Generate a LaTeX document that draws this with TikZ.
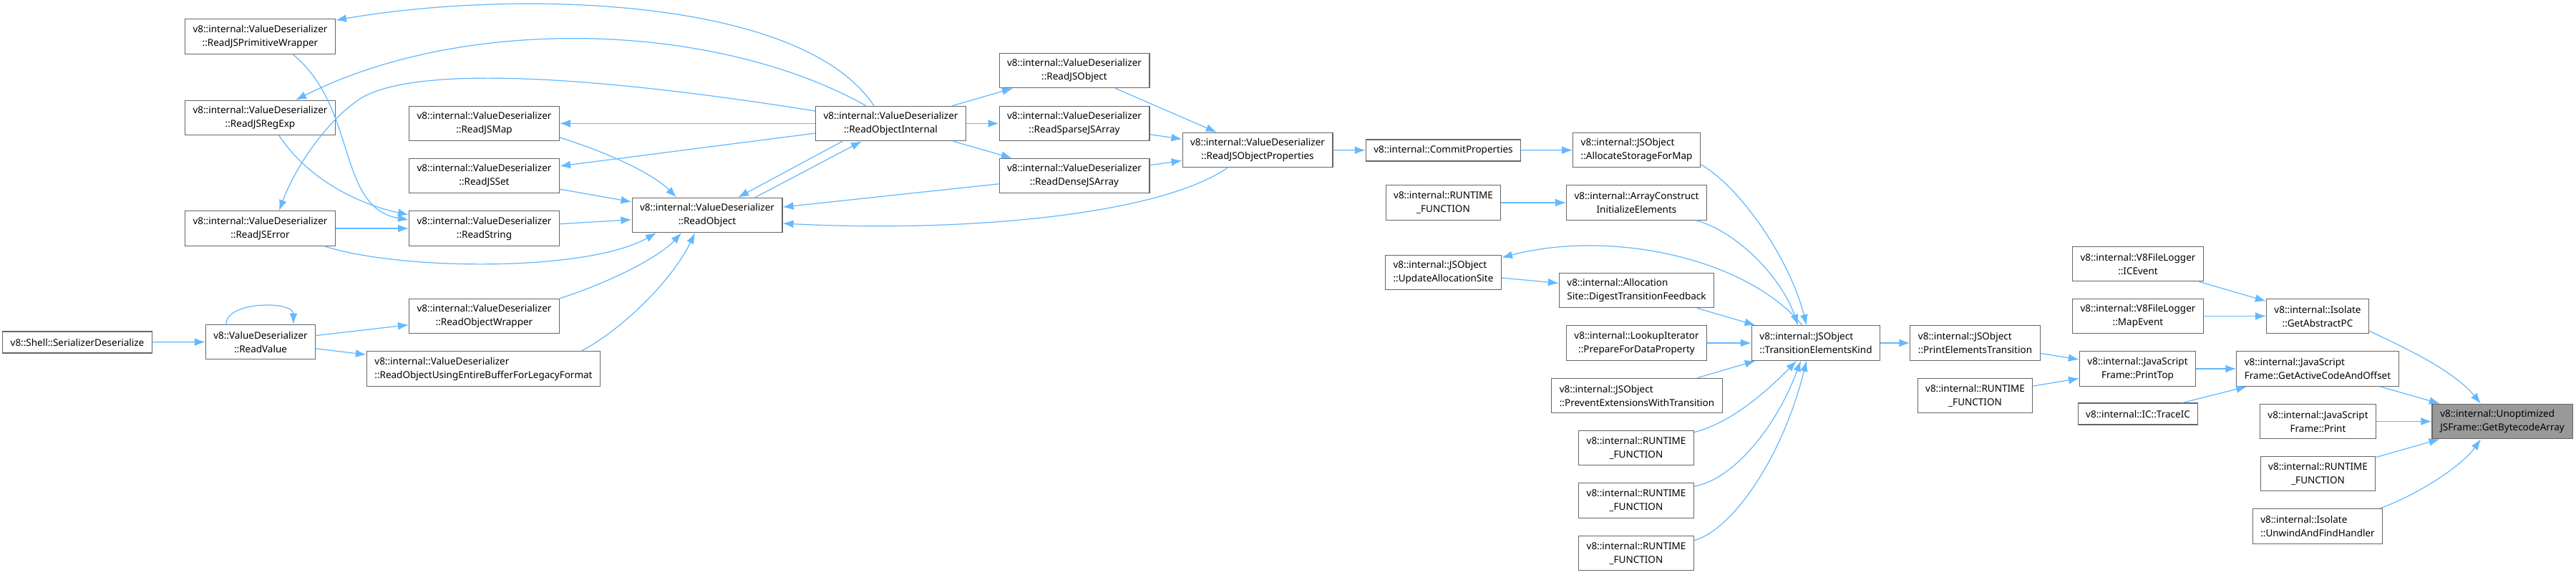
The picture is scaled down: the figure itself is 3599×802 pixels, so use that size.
\documentclass[tikz,border=0pt]{standalone}
\usepackage{fontspec}
\usepackage{tikz}
\usetikzlibrary{arrows.meta,calc}
\newfontfamily\graphfont{Noto Sans}
\definecolor{EdgeBlue}{RGB}{99,184,255}
\definecolor{NodeBorder}{RGB}{102,102,102}
\definecolor{RootFill}{RGB}{153,153,153}

\begin{document}
\begin{tikzpicture}[x=0.01cm, y=-0.01cm,
    fn/.style={draw=NodeBorder, fill=white, line width=0.3pt, inner xsep=0.11cm, inner ysep=0pt,
      minimum height=0.485cm, align=center, font={\graphfont\fontsize{3.84pt}{5.41pt}\selectfont}},
    fnl/.style={fn, align=left},
    fnone/.style={fn, minimum height=0.30cm},
    calls/.style={draw=EdgeBlue, line width=0.35pt, -{Latex[length=0.15cm,width=0.11cm]}}]
        \useasboundingbox (0,0) rectangle (3599,802);
        % ValueDeserializer side
        \node[fnone, minimum width=2.06cm] (sh) at (108,478) {v8::Shell::SerializerDeserialize};
        \node[fn, minimum width=1.52cm] (rv) at (364,477.5) {v8::ValueDeserializer\\::ReadValue};
        \node[fn, minimum width=2.09cm] (pw) at (363.5,51) {v8::internal::ValueDeserializer\\::ReadJSPrimitiveWrapper};
        \node[fn, minimum width=2.09cm] (re) at (363.5,164.5) {v8::internal::ValueDeserializer\\::ReadJSRegExp};
        \node[fn, minimum width=2.09cm] (er) at (363.5,319) {v8::internal::ValueDeserializer\\::ReadJSError};
        \node[fn, minimum width=2.09cm] (map) at (676.5,172.5) {v8::internal::ValueDeserializer\\::ReadJSMap};
        \node[fn, minimum width=2.09cm] (set) at (676.5,245.5) {v8::internal::ValueDeserializer\\::ReadJSSet};
        \node[fn, minimum width=2.09cm] (str) at (676.5,319) {v8::internal::ValueDeserializer\\::ReadString};
        \node[fn, minimum width=2.09cm] (row) at (676.5,441.5) {v8::internal::ValueDeserializer\\::ReadObjectWrapper};
        \node[fnl, minimum width=3.21cm] (leg) at (675.5,515) {v8::internal::ValueDeserializer\\::ReadObjectUsingEntireBufferForLegacyFormat};
        \node[fn, minimum width=2.08cm] (ro) at (988,300.5) {v8::internal::ValueDeserializer\\::ReadObject};
        \node[fn, minimum width=2.09cm] (roi) at (1244.5,172.5) {v8::internal::ValueDeserializer\\::ReadObjectInternal};
        \node[fn, minimum width=2.08cm] (jso) at (1501,98.5) {v8::internal::ValueDeserializer\\::ReadJSObject};
        \node[fn, minimum width=2.08cm] (spa) at (1501,172.5) {v8::internal::ValueDeserializer\\::ReadSparseJSArray};
        \node[fn, minimum width=2.08cm] (den) at (1501,245.5) {v8::internal::ValueDeserializer\\::ReadDenseJSArray};
        \node[fn, minimum width=2.08cm] (jop) at (1757,209.5) {v8::internal::ValueDeserializer\\::ReadJSObjectProperties};
        % JSObject side
        \node[fnone, minimum width=2.13cm] (cp) at (2016.5,210) {v8::internal::CommitProperties};
        \node[fnl, minimum width=1.73cm] (asm) at (2286.5,209.5) {v8::internal::JSObject\\::AllocateStorageForMap};
        \node[fn, minimum width=1.59cm] (rf1) at (2016.5,283) {v8::internal::RUNTIME\\\_FUNCTION};
        \node[fn, minimum width=1.95cm] (aci) at (2286.5,283) {v8::internal::ArrayConstruct\\InitializeElements};
        \node[fnl, minimum width=1.59cm] (uas) at (2016.5,380.5) {v8::internal::JSObject\\::UpdateAllocationSite};
        \node[fnl, minimum width=2.11cm] (dtf) at (2286.5,405.5) {v8::internal::Allocation\\Site::DigestTransitionFeedback};
        \node[fn, minimum width=1.95cm] (lpd) at (2286.5,479) {v8::internal::LookupIterator\\::PrepareForDataProperty};
        \node[fnl, minimum width=2.32cm] (pew) at (2287,552.5) {v8::internal::JSObject\\::PreventExtensionsWithTransition};
        \node[fn, minimum width=1.60cm] (rf2) at (2286,625.5) {v8::internal::RUNTIME\\\_FUNCTION};
        \node[fn, minimum width=1.60cm] (rf3) at (2286,699) {v8::internal::RUNTIME\\\_FUNCTION};
        \node[fn, minimum width=1.60cm] (rf4) at (2286,772.5) {v8::internal::RUNTIME\\\_FUNCTION};
        \node[fnl, minimum width=1.74cm] (tek) at (2537,479) {v8::internal::JSObject\\::TransitionElementsKind};
        \node[fnl, minimum width=1.77cm] (pet) at (2759.5,479) {v8::internal::JSObject\\::PrintElementsTransition};
        \node[fn, minimum width=1.59cm] (rf5) at (2759.5,552.5) {v8::internal::RUNTIME\\\_FUNCTION};
        % frames and root
        \node[fn, minimum width=1.82cm] (ice) at (2987,368.5) {v8::internal::V8FileLogger\\::ICEvent};
        \node[fn, minimum width=1.82cm] (mae) at (2987,441.5) {v8::internal::V8FileLogger\\::MapEvent};
        \node[fn, minimum width=1.42cm] (gapc) at (3238,441.5) {v8::internal::Isolate\\::GetAbstractPC};
        \node[fn, minimum width=1.61cm] (pt) at (2986.5,515) {v8::internal::JavaScript\\Frame::PrintTop};
        \node[fnl, minimum width=2.24cm] (gac) at (3238,515) {v8::internal::JavaScript\\Frame::GetActiveCodeAndOffset};
        \node[fnone, minimum width=1.66cm] (tic) at (2987,578) {v8::internal::IC::TraceIC};
        \node[fn, minimum width=1.61cm] (pr) at (3238.5,588.5) {v8::internal::JavaScript\\Frame::Print};
        \node[fnl, minimum width=1.96cm, fill=RootFill] (gba) at (3496,588.5) {v8::internal::Unoptimized\\JSFrame::GetBytecodeArray};
        \node[fn, minimum width=1.59cm] (rf6) at (3238.5,661.5) {v8::internal::RUNTIME\\\_FUNCTION};
        \node[fnl, minimum width=1.78cm] (ufh) at (3238,735) {v8::internal::Isolate\\::UnwindAndFindHandler};
        % calls, left part
        \draw[calls] (sh) -- (rv);
        \draw[calls] ($(rv.north)+(-48,0)$) .. controls (316,420) and (410,420) .. ($(rv.north)+(46,0)$);
        \draw[calls] (rv) -- (row);
        \draw[calls] (rv) -- (leg);
        \draw[calls] (er) -- (str);
        \draw[calls] ($(pw.south)+(45.5,0)$) .. controls (500,150) and (470,290) .. ($(str.west)+(0,-12)$);
        \draw[calls] ($(re.south)+(26.5,0)$) .. controls (430,250) and (500,285) .. ($(str.west)+(0,-19)$);
        \draw[calls] ($(roi.north)+(-23.5,0)$) .. controls (1120,-5) and (720,-15) .. ($(pw.north east)+(0,2)$);
        \draw[calls] ($(roi.north)+(-34.5,0)$) .. controls (1000,30) and (650,20) .. ($(re.north)+(49.5,0)$);
        \draw[calls] ($(roi.west)+(0,-17.5)$) .. controls (760,95) and (560,98) .. (500,140)
            .. controls (450,175) and (410,240) .. ($(er.north)+(26.5,0)$);
        \draw[calls] ($(er.south)+(89.5,0)$) .. controls (560,378) and (820,380) .. ($(ro.south)+(-71,0)$);
        \draw[calls] ($(map.east)+(0,19.5)$) .. controls (840,210) and (910,240) .. ($(ro.north)+(-43,0)$);
        \draw[calls] (set) -- (ro);
        \draw[calls] (str) -- (ro);
        \draw[calls] (row.north east) .. controls (850,395) and (920,360) .. ($(ro.south)+(-36,0)$);
        \draw[calls] ($(leg.north)+(136.5,0)$) .. controls (870,460) and (940,390) .. ($(ro.south)+(-17,0)$);
        \draw[calls] ($(roi.south)+(-67.5,0)$) -- ($(ro.north)+(43,0)$);
        \draw[calls] ($(ro.north)+(67,0)$) -- ($(roi.south)+(-40.5,0)$);
        \draw[calls] (roi) -- (map);
        \draw[calls] (roi) -- (set);
        \draw[calls] (roi) -- (jso);
        \draw[calls] (roi) -- (spa);
        \draw[calls] (roi) -- (den);
        \draw[calls] (jso) -- (jop);
        \draw[calls] (spa) -- (jop);
        \draw[calls] (den) -- (jop);
        \draw[calls] (den) -- (ro);
        \draw[calls] ($(jop.south)+(-42,0)$) .. controls (1620,300) and (1350,325) .. ($(ro.east)+(0,11.5)$);
        % calls, middle part
        \draw[calls] (jop) -- (cp);
        \draw[calls] (cp) -- (asm);
        \draw[calls] (rf1) -- (aci);
        \draw[calls] ($(asm.east)+(0,20)$) .. controls (2430,260) and (2500,360) .. ($(tek.north)+(-13,0)$);
        \draw[calls] ($(aci.south)+(83.5,0)$) .. controls (2430,325) and (2490,390) .. ($(tek.north)+(-25,0)$);
        \draw[calls] ($(tek.north)+(-19,0)$) .. controls (2440,360) and (2250,320) .. ($(uas.north east)+(0,4)$);
        \draw[calls] (uas) -- (dtf);
        \draw[calls] (dtf) -- (tek);
        \draw[calls] (lpd) -- (tek);
        \draw[calls] (pew) -- (tek);
        \draw[calls] ($(rf2.north east)+(0,3)$) .. controls (2420,590) and (2470,545) .. ($(tek.south)+(-27,0)$);
        \draw[calls] ($(rf3.north east)+(0,5)$) .. controls (2420,670) and (2480,600) .. ($(tek.south)+(-21,0)$);
        \draw[calls] ($(rf4.north east)+(0,7)$) .. controls (2420,740) and (2490,640) .. ($(tek.south)+(-13,0)$);
        % calls, right part
        \draw[calls] (tek) -- (pet);
        \draw[calls] (pet) -- (pt);
        \draw[calls] (rf5) -- (pt);
        \draw[calls] (pt) -- (gac);
        \draw[calls] (tic) -- (gac);
        \draw[calls] (ice) -- (gapc);
        \draw[calls] (mae) -- (gapc);
        \draw[calls] ($(gapc.south east)+(0,-4)$) .. controls (3370,490) and (3430,520) .. ($(gba.north)+(-30,0)$);
        \draw[calls] (gac) -- (gba);
        \draw[calls] (pr) -- (gba);
        \draw[calls] (rf6) -- (gba);
        \draw[calls] ($(ufh.north east)+(-5,0)$) .. controls (3380,690) and (3440,650) .. ($(gba.south)+(-30,0)$);
      \end{tikzpicture}
\end{document}
